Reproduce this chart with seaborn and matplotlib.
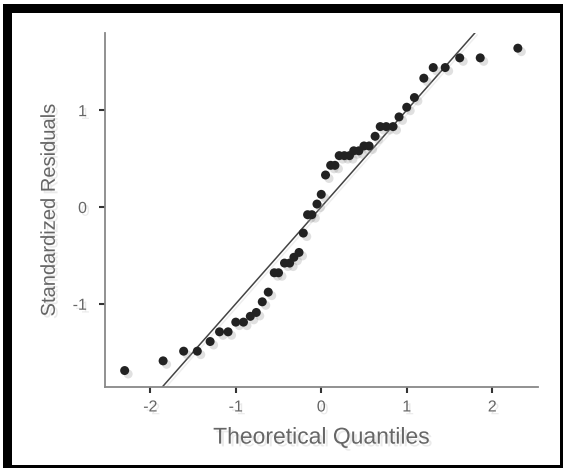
import matplotlib
matplotlib.use("Agg")
import matplotlib.pyplot as plt
import matplotlib.patheffects as pe
from matplotlib.patches import Rectangle
import seaborn as sns
import pandas as pd

# Data
theoretical = [-2.30, -1.85, -1.61, -1.45, -1.30, -1.19, -1.09, -1.00, -0.91, -0.83,
               -0.76, -0.69, -0.62, -0.55, -0.50, -0.43, -0.37, -0.32, -0.26, -0.21,
               -0.16, -0.11, -0.05, 0.00, 0.05, 0.11, 0.16, 0.21, 0.27, 0.33,
               0.38, 0.44, 0.50, 0.56, 0.63, 0.69, 0.76, 0.84, 0.91, 1.00,
               1.09, 1.20, 1.31, 1.45, 1.62, 1.86, 2.30]
residuals = [-1.69, -1.59, -1.49, -1.49, -1.39, -1.29, -1.29, -1.19, -1.19, -1.13,
             -1.09, -0.98, -0.88, -0.68, -0.68, -0.58, -0.58, -0.52, -0.47, -0.27,
             -0.08, -0.08, 0.03, 0.13, 0.33, 0.43, 0.43, 0.53, 0.53, 0.53,
             0.58, 0.58, 0.63, 0.63, 0.73, 0.83, 0.83, 0.83, 0.93, 1.03,
             1.13, 1.33, 1.44, 1.44, 1.54, 1.54, 1.64]
x_ticks = [-2, -1, 0, 1, 2]
y_ticks = [-1, 0, 1]
x_label = "Theoretical Quantiles"
y_label = "Standardized Residuals"

df = pd.DataFrame({"q": theoretical, "r": residuals})

sns.set_style("white")
plt.rcParams["font.family"] = ["Liberation Sans", "DejaVu Sans"]
plt.rcParams["axes.unicode_minus"] = False

W, H = 563, 468
fig = plt.figure(figsize=(W / 100, H / 100), dpi=100)
fig.patch.set_facecolor("white")

# black frame
fig.patches.append(Rectangle((3 / W, 0), 1 - 3 / W, 1 - 4 / H, transform=fig.transFigure,
                             facecolor="black", edgecolor="none", zorder=-3))
fig.patches.append(Rectangle((12 / W, 3 / H), (560 - 12) / W, (465 - 13) / H,
                             transform=fig.transFigure, facecolor="white",
                             edgecolor="none", zorder=-2))

ax = fig.add_axes([105 / W, 1 - 387 / H, (537.5 - 105) / W, (387 - 32.7) / H])
ax.set_facecolor("none")
ax.set_zorder(1)

shadow = [pe.SimplePatchShadow(offset=(2.5, -2.5), shadow_rgbFace="#999999", alpha=0.3), pe.Normal()]

ax.axline((0, 0), slope=1, color="#444444", lw=1.1, zorder=2,
          path_effects=[pe.SimpleLineShadow(offset=(1.5, -1.5), shadow_color="#bbbbbb", alpha=0.25), pe.Normal()])

sns.scatterplot(data=df, x="q", y="r", ax=ax, color="#222222", s=42,
                edgecolor="none", linewidth=0, zorder=3)
for coll in ax.collections:
    coll.set_path_effects(shadow)

ax.set_xlim(-2.53, 2.53)
ax.set_ylim(-1.86, 1.80)
ax.set_xticks(x_ticks)
ax.set_yticks(y_ticks)
ax.set_xticklabels([str(t) for t in x_ticks])
ax.set_yticklabels([str(t) for t in y_ticks])

for side in ["top", "right"]:
    ax.spines[side].set_visible(False)
for side in ["left", "bottom"]:
    ax.spines[side].set_color("#888888")
    ax.spines[side].set_linewidth(1.3)

ax.tick_params(axis="both", direction="out", length=4, width=1.5, color="#333333",
               labelcolor="#666666", labelsize=11.5)
ax.tick_params(axis="x", bottom=True, pad=5)
ax.tick_params(axis="y", left=True, pad=9)

txt_shadow = [pe.withSimplePatchShadow(offset=(2, -2), shadow_rgbFace="#bbbbbb", alpha=0.3)]
ax.set_xlabel(x_label, fontsize=16.5, color="#666666", labelpad=8, path_effects=txt_shadow)
ax.set_ylabel(y_label, fontsize=14.5, color="#666666", labelpad=10, path_effects=txt_shadow)
for lab in ax.get_xticklabels() + ax.get_yticklabels():
    lab.set_path_effects(txt_shadow)

fig.savefig("out.png", dpi=100)
